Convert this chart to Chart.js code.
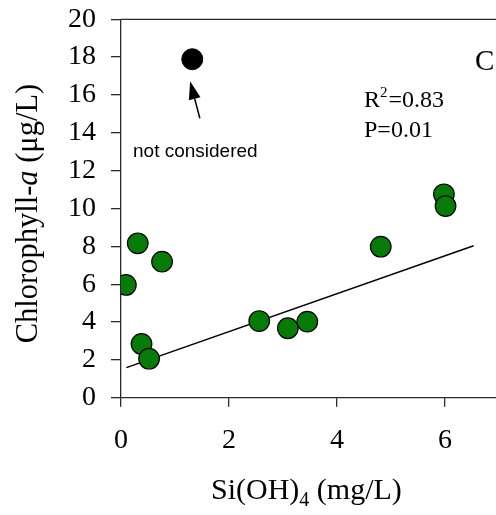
<!DOCTYPE html>
<html>
<head>
<meta charset="utf-8">
<script src="https://cdn.jsdelivr.net/npm/chart.js@4/dist/chart.umd.min.js"></script>
<style>
  html, body { margin: 0; padding: 0; background: #fff; overflow: hidden; }
  #wrap { width: 496px; height: 515px; overflow: hidden; position: relative; }
  canvas { display: block; }
</style>
</head>
<body>
<div id="wrap"><canvas id="c" width="500" height="515"></canvas></div>
<script>
// ---- data ----
const siOH4 = [0.09, 0.31, 0.76, 0.38, 0.52, 2.56, 3.09, 3.45, 4.81, 5.98, 6.01];
const chlA  = [5.96, 8.16, 7.19, 2.84, 2.06, 4.05, 3.67, 4.02, 7.98, 10.75, 10.13];
const outlierX = [1.32];
const outlierY = [17.89];
const fitX = [0.10, 6.53];
const fitY = [1.59, 8.03];
const xTicks = [0, 2, 4, 6];
const yTicks = [0, 2, 4, 6, 8, 10, 12, 14, 16, 18, 20];

const serif = '"Liberation Serif", "Times New Roman", serif';
const sans = '"Liberation Sans", Arial, sans-serif';
const axisColor = '#2a2a2a';

const toPts = (xs, ys) => xs.map((x, i) => ({ x: x, y: ys[i] }));

const annotations = {
  id: 'annotations',
  afterDraw(chart) {
    const { ctx, chartArea, scales } = chart;
    const xs = scales.x, ys = scales.y;
    ctx.save();
    // top frame
    ctx.strokeStyle = axisColor;
    ctx.lineWidth = 1.3;
    ctx.beginPath();
    ctx.moveTo(chartArea.left, chartArea.top);
    ctx.lineTo(chartArea.right, chartArea.top);
    ctx.stroke();

    // arrow pointing to the excluded point
    const ax0 = xs.getPixelForValue(1.46), ay0 = ys.getPixelForValue(14.77);
    const ax1 = xs.getPixelForValue(1.28), ay1 = ys.getPixelForValue(16.72);
    const ang = Math.atan2(ay1 - ay0, ax1 - ax0);
    const hl = 18, hw = 6;
    const bx = ax1 - hl * Math.cos(ang), by = ay1 - hl * Math.sin(ang);
    ctx.strokeStyle = '#000';
    ctx.lineWidth = 1.5;
    ctx.beginPath();
    ctx.moveTo(ax0, ay0);
    ctx.lineTo(bx, by);
    ctx.stroke();
    ctx.fillStyle = '#000';
    ctx.beginPath();
    ctx.moveTo(ax1, ay1);
    ctx.lineTo(bx + hw * Math.sin(ang), by - hw * Math.cos(ang));
    ctx.lineTo(bx - hw * Math.sin(ang), by + hw * Math.cos(ang));
    ctx.closePath();
    ctx.fill();

    // "not considered"
    ctx.fillStyle = '#000';
    ctx.textBaseline = 'alphabetic';
    ctx.textAlign = 'left';
    ctx.font = '19px ' + sans;
    ctx.fillText('not considered', 133, 157);

    // panel letter
    ctx.font = '29px ' + serif;
    ctx.fillText('C', 475, 70);

    // R^2 and P
    ctx.font = '24px ' + serif;
    let x = 364;
    ctx.fillText('R', x, 107);
    x += ctx.measureText('R').width;
    ctx.font = '15px ' + serif;
    ctx.fillText('2', x, 97);
    x += ctx.measureText('2').width + 1;
    ctx.font = '24px ' + serif;
    ctx.fillText('=0.83', x, 107);
    ctx.fillText('P=0.01', 364, 137);

    // x-axis title with subscript
    const parts = [['Si(OH)', 30, 0], ['4', 20, 7], [' (mg/L)', 30, 0]];
    x = 211;
    parts.forEach(p => {
      ctx.font = p[1] + 'px ' + serif;
      ctx.fillText(p[0], x, 499 + p[2]);
      x += ctx.measureText(p[0]).width;
    });

    // y-axis title with italic a
    ctx.translate(37, 213.5);
    ctx.rotate(-Math.PI / 2);
    const yparts = [['Chlorophyll-', 'normal'], ['a', 'italic'], [' (\u03bcg/L)', 'normal']];
    let total = 0;
    yparts.forEach(p => { ctx.font = p[1] + ' 30.5px ' + serif; total += ctx.measureText(p[0]).width; });
    x = -total / 2;
    yparts.forEach(p => {
      ctx.font = p[1] + ' 30.5px ' + serif;
      ctx.fillText(p[0], x, 0);
      x += ctx.measureText(p[0]).width;
    });
    ctx.restore();
  }
};

new Chart(document.getElementById('c'), {
  type: 'scatter',
  data: {
    datasets: [
      {
        label: 'Chl-a',
        data: toPts(siOH4, chlA),
        backgroundColor: '#087a08',
        borderColor: '#000',
        borderWidth: 1.2,
        pointRadius: 10.3,
        pointHoverRadius: 10.3
      },
      {
        label: 'not considered',
        data: toPts(outlierX, outlierY),
        backgroundColor: '#000',
        borderColor: '#000',
        borderWidth: 1,
        pointRadius: 10.5,
        pointHoverRadius: 10.5
      },
      {
        type: 'line',
        label: 'fit',
        data: toPts(fitX, fitY),
        borderColor: '#000',
        borderWidth: 1.5,
        pointRadius: 0,
        fill: false,
        tension: 0
      }
    ]
  },
  options: {
    responsive: false,
    animation: false,
    events: [],
    layout: { autoPadding: false, padding: { top: 19.3, right: 1, left: 0, bottom: 0 } },
    plugins: { legend: { display: false }, tooltip: { enabled: false } },
    scales: {
      x: {
        type: 'linear',
        min: 0, max: 7,
        afterBuildTicks: s => { s.ticks = xTicks.map(v => ({ value: v })); },
        afterFit: s => { s.height = 117.3; s.paddingLeft = 0; s.paddingRight = 0; },
        grid: { display: true, drawOnChartArea: false, drawTicks: true, tickLength: 9, color: axisColor, lineWidth: 1.3 },
        border: { display: true, color: axisColor, width: 1.3 },
        ticks: { color: '#000', padding: 17, font: { family: serif, size: 28 }, maxRotation: 0 }
      },
      y: {
        type: 'linear',
        min: 0, max: 20,
        afterBuildTicks: s => { s.ticks = yTicks.map(v => ({ value: v })); },
        afterFit: s => { s.width = 121; s.paddingTop = 0; s.paddingBottom = 0; },
        grid: { display: true, drawOnChartArea: false, drawTicks: true, tickLength: 10, color: axisColor, lineWidth: 1.3 },
        border: { display: true, color: axisColor, width: 1.3 },
        ticks: { color: '#000', padding: 15, font: { family: serif, size: 28 } }
      }
    }
  },
  plugins: [annotations]
});
</script>
</body>
</html>
